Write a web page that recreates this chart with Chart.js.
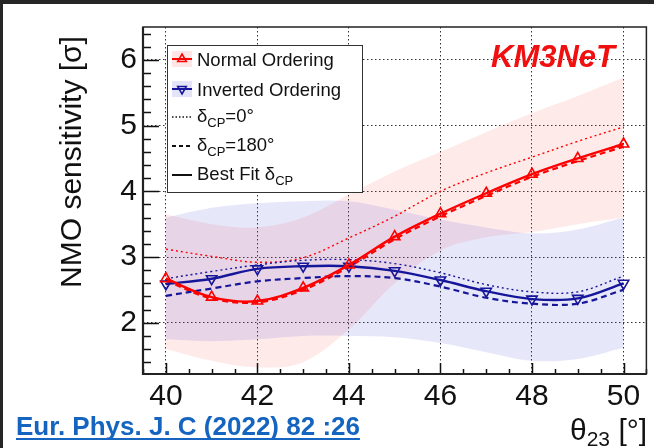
<!DOCTYPE html>
<html>
<head>
<meta charset="utf-8">
<script src="https://cdn.jsdelivr.net/npm/chart.js@4.4.0/dist/chart.umd.min.js"></script>
<style>
    html, body { margin: 0; padding: 0; background: #ffffff; }
    #chart { display: block; }
</style>
</head>
<body>
<canvas id="chart" width="654" height="448"></canvas>
<script>
// theta_23 values (degrees)
const theta = [40, 41, 42, 43, 44, 45, 46, 47, 48, 49, 50];

// Normal ordering
const noBestFit  = [2.67, 2.39, 2.33, 2.53, 2.88, 3.31, 3.66, 3.97, 4.26, 4.50, 4.72];
const noDelta180 = [2.64, 2.37, 2.31, 2.50, 2.85, 3.27, 3.62, 3.93, 4.22, 4.46, 4.68];
const noDelta0   = [3.12, 3.01, 2.92, 2.99, 3.29, 3.62, 4.00, 4.28, 4.52, 4.76, 4.98];
const noBandUpper = [3.65, 3.50, 3.45, 3.60, 3.95, 4.30, 4.60, 4.90, 5.19, 5.45, 5.73];
const noBandLower = [1.60, 1.42, 1.32, 1.40, 1.90, 2.60, 3.10, 3.30, 3.38, 3.50, 3.60];

// Inverted ordering
const ioBestFit  = [2.59, 2.67, 2.82, 2.86, 2.86, 2.79, 2.65, 2.48, 2.36, 2.37, 2.60];
const ioDelta180 = [2.41, 2.52, 2.63, 2.68, 2.71, 2.68, 2.55, 2.38, 2.29, 2.29, 2.50];
const ioDelta0   = [2.67, 2.78, 2.88, 2.95, 2.96, 2.90, 2.76, 2.58, 2.47, 2.47, 2.71];
const ioBandUpper = [3.60, 3.75, 3.82, 3.85, 3.85, 3.72, 3.57, 3.45, 3.36, 3.42, 3.60];
const ioBandLower = [1.75, 1.72, 1.75, 1.80, 1.80, 1.78, 1.69, 1.55, 1.42, 1.45, 1.62];

// axis ticks
const xTickValues = [40, 42, 44, 46, 48, 50];
const yTickValues = [2, 3, 4, 5, 6];

const RED = '#ff0000';
const BLUE = '#16169a';
const RED_BAND = 'rgba(255, 60, 60, 0.11)';
const BLUE_BAND = 'rgba(70, 70, 220, 0.13)';
const FONT = '"Liberation Sans", Arial, Helvetica, sans-serif';

const pts = arr => arr.map((v, i) => ({ x: theta[i], y: v }));

function band(data, color, fill, order) {
    return {
        data: pts(data), fill: fill, backgroundColor: color,
        borderColor: 'rgba(0,0,0,0)', borderWidth: 0, pointRadius: 0,
        tension: 0.35, order: order
    };
}

function curve(data, color, dash, width, order, marker) {
    const ds = {
        data: pts(data), fill: false, borderColor: color, borderWidth: width,
        borderDash: dash, tension: 0.35, order: order, pointRadius: 0
    };
    if (marker) {
        ds.pointStyle = 'triangle';
        ds.pointRadius = 6;
        ds.pointRotation = marker === 'down' ? 180 : 0;
        ds.pointBorderColor = color;
        ds.pointBorderWidth = 1.6;
        ds.pointBackgroundColor = 'rgba(255,255,255,0)';
    }
    return ds;
}

// draw text made of pieces (for subscripts)
function drawRich(ctx, parts, x, y) {
    let cx = x;
    parts.forEach(p => {
        ctx.font = (p.style || '') + ' ' + p.size + 'px ' + FONT;
        ctx.fillText(p.t, cx, y + (p.dy || 0));
        cx += ctx.measureText(p.t).width;
    });
    return cx;
}

function drawTriangle(ctx, x, y, r, down, color) {
    ctx.save();
    ctx.strokeStyle = color;
    ctx.lineWidth = 1.5;
    ctx.beginPath();
    const s = down ? -1 : 1;
    ctx.moveTo(x, y - s * r);
    ctx.lineTo(x + r * 0.87, y + s * r * 0.5);
    ctx.lineTo(x - r * 0.87, y + s * r * 0.5);
    ctx.closePath();
    ctx.stroke();
    ctx.restore();
}

const decorations = {
    id: 'decorations',
    beforeDraw(chart) {
        const ctx = chart.ctx;
        ctx.save();
        ctx.fillStyle = '#ffffff';
        ctx.fillRect(0, 0, chart.width, chart.height);
        ctx.restore();
    },
    afterDatasetsDraw(chart) {
        const ctx = chart.ctx;
        const a = chart.chartArea;
        const xs = chart.scales.x, ys = chart.scales.y;
        ctx.save();

        // inner ticks (ROOT style)
        ctx.strokeStyle = '#111';
        ctx.lineWidth = 1.5;
        ctx.beginPath();
        for (let k = 79; k <= 101; k++) {
            const v = k / 2;
            const px = Math.round(xs.getPixelForValue(v)) + 0.5;
            const len = (v % 2 === 0) ? 11 : 5;
            ctx.moveTo(px, a.bottom);
            ctx.lineTo(px, a.bottom - len);
        }
        for (let k = 7; k <= 32; k++) {
            const v = k / 5;
            const py = Math.round(ys.getPixelForValue(v)) + 0.5;
            const len = (k % 5 === 0) ? 16 : 8;
            ctx.moveTo(a.left, py);
            ctx.lineTo(a.left + len, py);
        }
        ctx.stroke();

        // frame
        ctx.strokeStyle = '#222';
        ctx.lineWidth = 1.5;
        ctx.strokeRect(a.left, a.top, a.right - a.left, a.bottom - a.top);
        ctx.lineWidth = 2.2;
        ctx.beginPath();
        ctx.moveTo(a.left, a.top);
        ctx.lineTo(a.left, a.bottom);
        ctx.lineTo(a.right, a.bottom);
        ctx.stroke();

        // legend
        const bx = 167, by = 45, bw = 195, bh = 147;
        ctx.fillStyle = '#ffffff';
        ctx.fillRect(bx, by, bw, bh);
        ctx.strokeStyle = '#333';
        ctx.lineWidth = 1;
        ctx.strokeRect(bx + 0.5, by + 0.5, bw, bh);

        const lx0 = 172, lx1 = 192, tx = 197;
        const rows = [59, 89, 117, 146, 175];
        ctx.textBaseline = 'middle';
        ctx.textAlign = 'left';
        ctx.fillStyle = '#111';

        // normal ordering
        ctx.fillStyle = 'rgba(255, 60, 60, 0.13)';
        ctx.fillRect(lx0, rows[0] - 8, lx1 - lx0, 16);
        ctx.strokeStyle = RED; ctx.lineWidth = 2;
        ctx.beginPath(); ctx.moveTo(lx0, rows[0]); ctx.lineTo(lx1, rows[0]); ctx.stroke();
        drawTriangle(ctx, 182, rows[0], 5, false, RED);
        // inverted ordering
        ctx.fillStyle = 'rgba(70, 70, 220, 0.15)';
        ctx.fillRect(lx0, rows[1] - 8, lx1 - lx0, 16);
        ctx.strokeStyle = BLUE; ctx.lineWidth = 2;
        ctx.beginPath(); ctx.moveTo(lx0, rows[1]); ctx.lineTo(lx1, rows[1]); ctx.stroke();
        drawTriangle(ctx, 182, rows[1], 5, true, BLUE);
        // delta samples
        ctx.strokeStyle = '#111';
        ctx.lineWidth = 1.3;
        ctx.setLineDash([1.5, 2]);
        ctx.beginPath(); ctx.moveTo(lx0, rows[2]); ctx.lineTo(lx1, rows[2]); ctx.stroke();
        ctx.lineWidth = 2;
        ctx.setLineDash([4, 3]);
        ctx.beginPath(); ctx.moveTo(lx0, rows[3]); ctx.lineTo(lx1, rows[3]); ctx.stroke();
        ctx.setLineDash([]);
        ctx.beginPath(); ctx.moveTo(lx0, rows[4]); ctx.lineTo(lx1, rows[4]); ctx.stroke();

        ctx.fillStyle = '#111';
        ctx.textBaseline = 'alphabetic';
        drawRich(ctx, [{ t: 'Normal Ordering', size: 18.5 }], tx, rows[0] + 7);
        drawRich(ctx, [{ t: 'Inverted Ordering', size: 18.5 }], tx, rows[1] + 7);
        drawRich(ctx, [{ t: 'δ', size: 18.5 }, { t: 'CP', size: 13, dy: 5 }, { t: '=0°', size: 18.5 }], tx, rows[2] + 5);
        drawRich(ctx, [{ t: 'δ', size: 18.5 }, { t: 'CP', size: 13, dy: 5 }, { t: '=180°', size: 18.5 }], tx, rows[3] + 5);
        drawRich(ctx, [{ t: 'Best Fit δ', size: 18.5 }, { t: 'CP', size: 13, dy: 5 }], tx, rows[4] + 5);

        // KM3NeT label
        ctx.fillStyle = '#f01010';
        ctx.font = 'italic bold 31px ' + FONT;
        ctx.fillText('KM3NeT', 491, 67);

        // y axis title
        ctx.save();
        ctx.translate(81, 162);
        ctx.rotate(-Math.PI / 2);
        ctx.textAlign = 'center';
        ctx.fillStyle = '#111';
        ctx.font = '30px ' + FONT;
        ctx.fillText('NMO sensitivity [σ]', 0, 0);
        ctx.restore();

        // x axis title
        ctx.fillStyle = '#111';
        drawRich(ctx, [{ t: 'θ', size: 30 }, { t: '23', size: 21, dy: 6 }, { t: ' [°]', size: 30 }], 570, 440);

        // citation
        ctx.fillStyle = '#1565c0';
        ctx.font = 'bold 26px ' + FONT;
        const cite = 'Eur. Phys. J. C (2022) 82 :26';
        ctx.fillText(cite, 16, 435);
        const w = ctx.measureText(cite).width;
        ctx.fillRect(16, 438, w, 2);

        ctx.restore();
    },
    afterDraw(chart) {
        const ctx = chart.ctx;
        ctx.save();
        ctx.fillStyle = '#262626';
        ctx.fillRect(0, 0, chart.width, 4);
        ctx.fillRect(0, 0, 3, chart.height);
        ctx.restore();
    }
};

const ctx = document.getElementById('chart').getContext('2d');
new Chart(ctx, {
    type: 'line',
    data: {
        datasets: [
            band(noBandUpper, RED_BAND, '+1', 20),
            band(noBandLower, 'rgba(0,0,0,0)', false, 21),
            band(ioBandUpper, BLUE_BAND, '+1', 18),
            band(ioBandLower, 'rgba(0,0,0,0)', false, 19),
            curve(noDelta0, RED, [2, 3], 1.4, 8),
            curve(ioDelta0, BLUE, [2, 3], 1.4, 7),
            curve(noDelta180, RED, [6, 4], 2.2, 6),
            curve(ioDelta180, BLUE, [6, 4], 2.2, 5),
            curve(ioBestFit, BLUE, [], 2.4, 2, 'down'),
            curve(noBestFit, RED, [], 2.4, 1, 'up')
        ]
    },
    options: {
        responsive: false,
        animation: false,
        devicePixelRatio: 1,
        layout: { padding: { left: 0, top: 27, right: 7, bottom: 0 } },
        plugins: {
            legend: { display: false },
            tooltip: { enabled: false }
        },
        scales: {
            x: {
                type: 'linear',
                min: 39.5,
                max: 50.5,
                afterFit: s => { s.height = 74; },
                afterBuildTicks: s => { s.ticks = xTickValues.map(v => ({ value: v })); },
                grid: { color: '#333', lineWidth: 1, drawTicks: false },
                border: { display: false, dash: [1.5, 2.5] },
                ticks: {
                    color: '#111', padding: 5, maxRotation: 0, autoSkip: false,
                    font: { family: FONT, size: 30 }
                }
            },
            y: {
                type: 'linear',
                min: 1.22,
                max: 6.5,
                afterFit: s => { s.width = 143; },
                afterBuildTicks: s => { s.ticks = yTickValues.map(v => ({ value: v })); },
                grid: { color: '#333', lineWidth: 1, drawTicks: false },
                border: { display: false, dash: [1.5, 2.5] },
                ticks: {
                    color: '#111', padding: 6,
                    font: { family: FONT, size: 30 }
                }
            }
        }
    },
    plugins: [decorations]
});
</script>
</body>
</html>
